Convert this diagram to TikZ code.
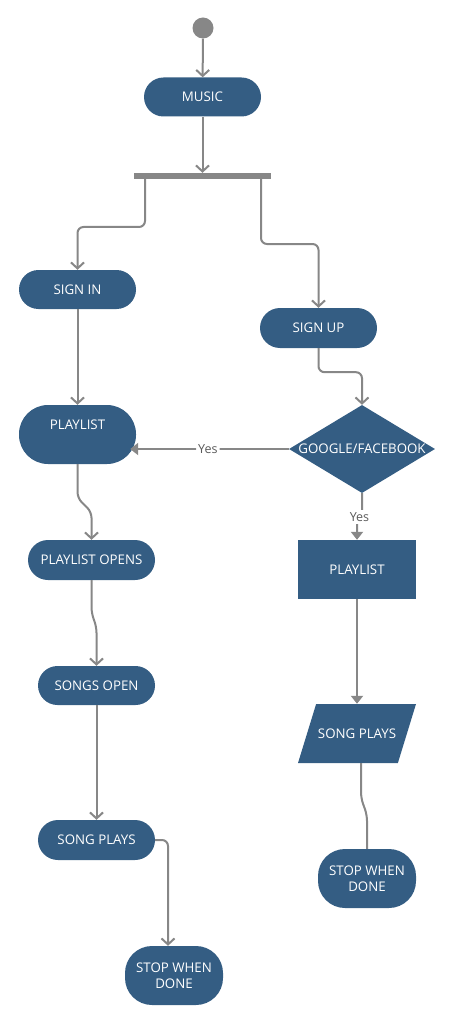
\documentclass[tikz,border=0pt]{standalone}
\usepackage{fontspec}
\setmainfont{Open Sans}
\usetikzlibrary{shapes.geometric,arrows.meta}

\definecolor{boxblue}{HTML}{345D83}
\definecolor{linegray}{HTML}{878787}
\definecolor{labelgray}{HTML}{5A5A5A}

\tikzset{
  stadium/.style={rectangle, rounded corners=19.5pt, fill=boxblue, text=white,
    minimum width=117pt, minimum height=39pt, inner sep=0pt, align=center},
  decision/.style={diamond, aspect=1.66, fill=boxblue, text=white, inner sep=0pt,
    minimum width=146pt, minimum height=88pt},
  process/.style={rectangle, fill=boxblue, text=white,
    minimum width=118pt, minimum height=59pt, inner sep=0pt},
  inout/.style={trapezium, trapezium left angle=72, trapezium right angle=108,
    trapezium stretches body, fill=boxblue, text=white,
    minimum width=118pt, minimum height=59pt, inner xsep=0pt, inner ysep=23pt},
  flow/.style={draw=linegray, line width=2pt, rounded corners=6pt},
  openarrow/.style={flow, -{Straight Barb[length=6pt,width=13pt]}},
  solidarrow/.style={flow, -{Triangle[length=8pt,width=12pt]}},
  yeslabel/.style={fill=white, text=labelgray, inner sep=2pt, font=\fontsize{12.5}{15}\selectfont}
}

\begin{document}
\begin{tikzpicture}[x=1pt, y=-1pt, font=\fontsize{13.3}{16}\selectfont]

    % Fix the page to the size of the reference
    \useasboundingbox (0,0) rectangle (454,1024);

    % Start point and fork bar
    \node[circle, fill=linegray, minimum size=21pt, inner sep=0pt] (start) at (203, 28) {};
    \node[stadium] (music) at (202.5, 97) {MUSIC};
    \node[rectangle, fill=linegray, minimum width=137pt, minimum height=6pt, inner sep=0pt] (bar) at (202.5, 176) {};

    % Points on the bar where the two branches leave
    \coordinate (forkL) at (145, 179);
    \coordinate (forkR) at (261, 179);

    % Left branch
    \node[stadium] (signin) at (77.5, 289.5) {SIGN IN};
    \node[stadium, minimum height=59pt, rounded corners=29pt] (playlistL) at (77.5, 434.5) {PLAYLIST\\[-1pt]\strut};
    \node[stadium, minimum width=127pt, minimum height=40pt, rounded corners=20pt] (plopens) at (91.5, 560) {PLAYLIST OPENS};
    \node[stadium] (songsopen) at (96.5, 685.5) {SONGS OPEN};
    \node[stadium, minimum height=40pt, rounded corners=20pt] (songplaysL) at (96.5, 840) {SONG PLAYS};
    \node[stadium, minimum width=98pt, minimum height=59pt, rounded corners=27pt] (stopL) at (174, 975.5) {STOP WHEN\\DONE};

    % Right branch
    \node[stadium, minimum height=40pt, rounded corners=20pt] (signup) at (318.5, 328) {SIGN UP};
    \node[decision] (google) at (362, 449) {GOOGLE/FACEBOOK};
    \node[process] (playlistR) at (357, 569.5) {PLAYLIST};
    \node[inout] (songplaysR) at (357, 733.5) {SONG PLAYS};
    \node[stadium, minimum width=98pt, minimum height=59pt, rounded corners=27pt] (stopR) at (367, 878.5) {STOP WHEN\\DONE};

    % Connectors from the start to the fork
    \draw[openarrow] (start) -- (music);
    \draw[openarrow] (music) -- (bar);
    \draw[openarrow] (forkL) -- ++(0, 48) -| (signin.north);
    \draw[openarrow] (forkR) -- ++(0, 65) -| (signup.north);

    % Connectors of the left branch
    \draw[openarrow] (signin) -- (playlistL);
    \draw[openarrow] (playlistL.south) -- ++(0, 34) -- ([yshift=28pt]plopens.north) -- (plopens.north);
    \draw[openarrow] (plopens.south) -- ++(0, 33) -- ([yshift=39pt]songsopen.north) -- (songsopen.north);
    \draw[openarrow] (songsopen) -- (songplaysL);
    \draw[openarrow] (songplaysL.east) -| ([xshift=-6pt]stopL.north);

    % Connectors of the right branch
    \draw[openarrow] (signup.south) -- ++(0, 24) -| (google.north);
    \draw[solidarrow, shorten >=-6pt] (google.west) -- (google.west -| playlistL.east)
        node[yeslabel, pos=0.53] (yesA) {Yes};
    \draw[solidarrow] (google.south) -- ++(0, 24) -| (playlistR.north);
    \node[yeslabel] (yesB) at (359.5, 517) {Yes};
    \draw[solidarrow] (playlistR) -- (songplaysR);
    \draw[flow] ([xshift=4pt]songplaysR.south) -- ++(0, 35) -- ([yshift=34pt]stopR.north) -- (stopR.north);

\end{tikzpicture}
\end{document}
